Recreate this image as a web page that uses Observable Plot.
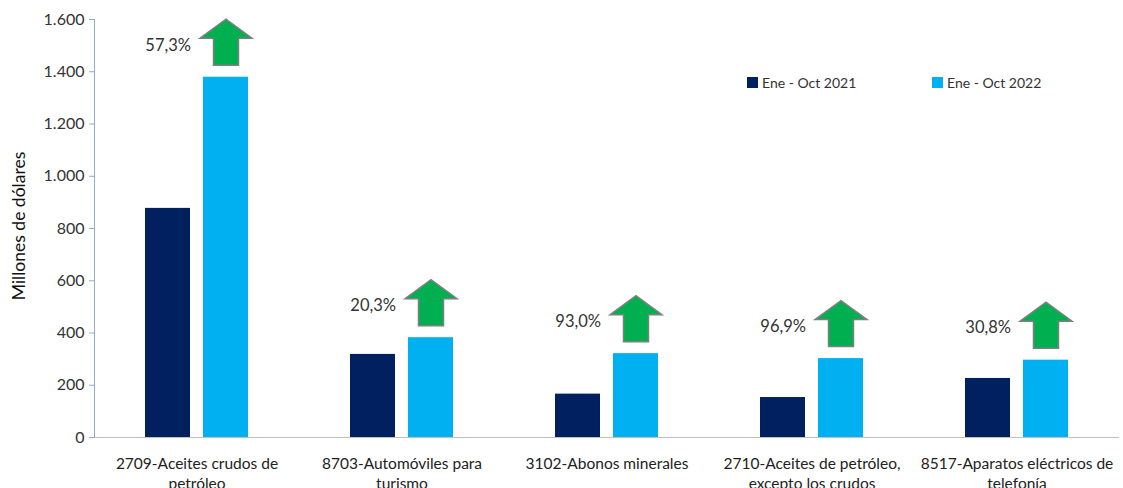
<!DOCTYPE html>
<html>
<head>
<meta charset="utf-8">
<script src="https://cdn.jsdelivr.net/npm/d3@7"></script>
<script src="https://cdn.jsdelivr.net/npm/@observablehq/plot@0.6"></script>
<style>
  body { margin: 0; background: #fff; }
  #wrap { position: relative; width: 1123px; height: 488px; font-family: Lato, "Open Sans", sans-serif; }
  .legend { position: absolute; top: 74px; left: 747px; display: flex; font-size: 14px; color: #333; }
  .legend .item { display: flex; align-items: center; }
  .legend .sw { width: 11px; height: 11px; margin-right: 4px; }
  .ylabel { position: absolute; left: 18px; top: 226px; transform: translate(-50%, -50%) rotate(-90deg); white-space: nowrap; font-size: 17.5px; color: #111; }
</style>
</head>
<body>
<div id="wrap"></div>
<script>
const categories = [
  "2709-Aceites crudos de\npetróleo",
  "8703-Automóviles para\nturismo",
  "3102-Abonos minerales",
  "2710-Aceites de petróleo,\nexcepto los crudos",
  "8517-Aparatos eléctricos de\ntelefonía"
];
const series = ["Ene - Oct 2021", "Ene - Oct 2022"];
const values2021 = [877, 318, 166, 153, 226];
const values2022 = [1379, 382, 321, 302, 296];
const growthLabels = ["57,3%", "20,3%", "93,0%", "96,9%", "30,8%"];
const yTicks = [0, 200, 400, 600, 800, 1000, 1200, 1400, 1600];
const yLabel = "Millones de dólares";
const seriesColors = ["#002060", "#00b0f0"];

const rows = [];
categories.forEach((c, i) => {
  rows.push({cat: c, series: series[0], value: values2021[i]});
  rows.push({cat: c, series: series[1], value: values2022[i]});
});
const growth = categories.map((c, i) => ({cat: c, value: values2022[i], label: growthLabels[i]}));

const esFormat = d3.formatLocale({decimal: ",", thousands: ".", grouping: [3], currency: ["", ""]}).format(",");

const arrowSymbol = {
  draw(ctx) {
    const hw = 26, sw = 12.5, h = 46, hh = 19;
    const top = -h / 2, bot = h / 2, neck = top + hh;
    ctx.moveTo(-sw, bot);
    ctx.lineTo(-sw, neck);
    ctx.lineTo(-hw, neck);
    ctx.lineTo(0, top);
    ctx.lineTo(hw, neck);
    ctx.lineTo(sw, neck);
    ctx.lineTo(sw, bot);
    ctx.closePath();
  }
};

const chart = Plot.plot({
  width: 1123,
  height: 488,
  marginLeft: 92,
  marginRight: 3,
  marginTop: 19,
  marginBottom: 51,
  style: {fontFamily: "Lato, 'Open Sans', sans-serif", fontSize: "15px", color: "#333"},
  fx: {domain: categories, padding: 0, label: null},
  x: {domain: series, paddingInner: 0.22, paddingOuter: 0.852, axis: null},
  y: {domain: [0, 1600]},
  color: {domain: series, range: seriesColors},
  marks: [
    Plot.ruleY([0], {stroke: "#c0c0c0", strokeWidth: 1}),
    Plot.frame({anchor: "left", facetAnchor: "left", stroke: "#8faad6"}),
    Plot.barY(rows, {fx: "cat", x: "series", y: "value", fill: "series"}),
    Plot.dot(growth, {fx: "cat", x: () => series[1], y: "value", dy: -35, symbol: arrowSymbol, fill: "#00b050", stroke: "#7f7f7f", strokeWidth: 1.5}),
    Plot.text(growth, {fx: "cat", x: () => series[1], y: "value", text: "label", textAnchor: "end", dx: -35, dy: -32, fontSize: 16.5, fill: "#333"}),
    Plot.axisY({ticks: yTicks, tickFormat: esFormat, tickSize: 5, tickPadding: 5, stroke: "#8faad6", fill: "#333", fontSize: 16, label: null}),
    Plot.axisFx({anchor: "bottom", tickSize: 0, tickPadding: 17, lineHeight: 1.3, fontSize: 15.5, fill: "#222", label: null})
  ]
});

const wrap = document.getElementById("wrap");
wrap.appendChild(chart);

const yl = document.createElement("div");
yl.className = "ylabel";
yl.textContent = yLabel;
wrap.appendChild(yl);

const legend = document.createElement("div");
legend.className = "legend";
series.forEach((s, i) => {
  const item = document.createElement("div");
  item.className = "item";
  item.style.width = i === 0 ? "185px" : "auto";
  const sw = document.createElement("div");
  sw.className = "sw";
  sw.style.background = seriesColors[i];
  const t = document.createElement("span");
  t.textContent = s;
  item.appendChild(sw);
  item.appendChild(t);
  legend.appendChild(item);
});
wrap.appendChild(legend);
</script>
</body>
</html>
